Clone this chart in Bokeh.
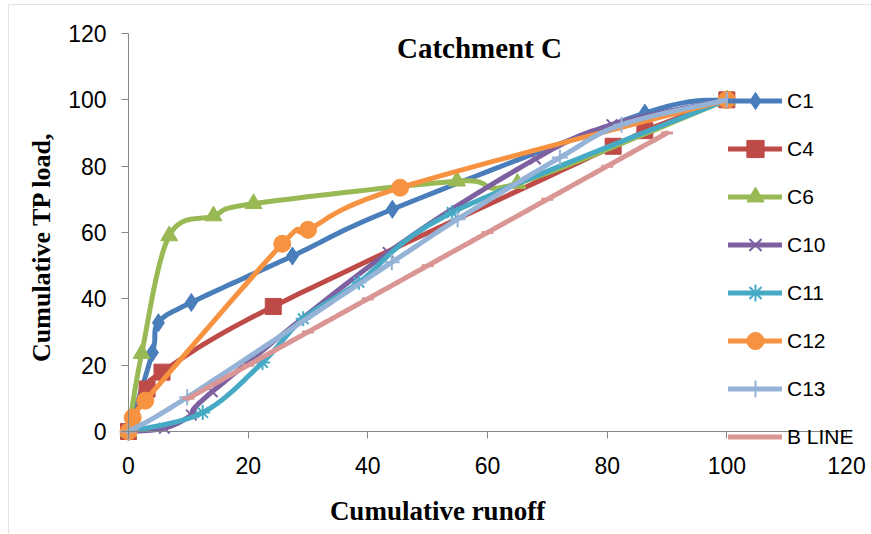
from bokeh.plotting import figure
from bokeh.models import (Range1d, FixedTicker, Label, Legend, LegendItem,
                          BoxAnnotation)
from bokeh.embed import file_html
from bokeh.resources import INLINE

# ---- data: cumulative runoff (%) vs cumulative TP load (%) ----
c1_x = [0, 4.0, 5.0, 10.5, 27.4, 44.1, 86.3, 100]
c1_y = [0, 23.8, 32.8, 38.9, 52.9, 67.0, 96.0, 100]

c4_x = [0, 3.1, 5.6, 24.2, 81.0, 86.3, 100]
c4_y = [0, 12.8, 17.9, 37.7, 86.0, 90.7, 100]

c6_x = [0, 2.2, 6.8, 14.2, 20.9, 54.9, 65.0, 100]
c6_y = [0, 23.5, 59.0, 65.0, 68.7, 75.5, 74.8, 100]

c10_x = [0, 6.0, 10.5, 14.0, 43.4, 68.0, 80.8, 100]
c10_y = [0, 1.0, 5.0, 12.0, 54.0, 82.2, 92.5, 100]

c11_x = [0, 12.4, 22.4, 29.2, 38.5, 54.1, 100]
c11_y = [0, 5.7, 20.8, 34.0, 45.0, 66.0, 100]

c12_x = [0, 0.7, 2.8, 25.7, 30.0, 45.4, 100]
c12_y = [0, 4.2, 9.3, 56.6, 60.8, 73.5, 100]

c13_x = [0, 9.8, 44.0, 55.0, 72.1, 82.4, 100]
c13_y = [0, 10.3, 51.0, 64.0, 82.6, 92.5, 100]

bline_x = [10, 20, 30, 40, 50, 60, 70, 80, 90]
bline_y = [10, 20, 30, 40, 50, 60, 70, 80, 90]

series_names = ["C1", "C4", "C6", "C10", "C11", "C12", "C13", "B LINE"]
axis_ticks = [0, 20, 40, 60, 80, 100, 120]

# ---- canvas geometry (pixels) ----
W, H = 871, 534
X0_PX, Y0_PX = 128, 431          # where (0, 0) sits
PX_PER_X = 718 / 120.0
PX_PER_Y = 398 / 120.0


def px_x(px):
    return (px - X0_PX) / PX_PER_X


def px_y(py):
    return (Y0_PX - py) / PX_PER_Y


def smooth(xs, ys, steps=20):
    """Cardinal-spline smoothing (Bezier through every point)."""
    pts = list(zip(xs, ys))
    n = len(pts)
    out_x, out_y = [pts[0][0]], [pts[0][1]]
    for i in range(n - 1):
        p0 = pts[i - 1] if i > 0 else pts[i]
        p1 = pts[i]
        p2 = pts[i + 1]
        p3 = pts[i + 2] if i + 2 < n else pts[i + 1]
        c1 = (p1[0] + (p2[0] - p0[0]) / 6.0, p1[1] + (p2[1] - p0[1]) / 6.0)
        c2 = (p2[0] - (p3[0] - p1[0]) / 6.0, p2[1] - (p3[1] - p1[1]) / 6.0)
        for k in range(1, steps + 1):
            t = k / steps
            a = (1 - t) ** 3
            b = 3 * (1 - t) ** 2 * t
            c = 3 * (1 - t) * t ** 2
            d = t ** 3
            out_x.append(a * p1[0] + b * c1[0] + c * c2[0] + d * p2[0])
            out_y.append(a * p1[1] + b * c1[1] + c * c2[1] + d * p2[1])
    return out_x, out_y


p = figure(width=W, height=H, output_backend="svg", toolbar_location=None,
           x_range=Range1d(px_x(0), px_x(W)), y_range=Range1d(px_y(H), px_y(0)),
           min_border=0, min_border_left=0, min_border_right=0,
           min_border_top=0, min_border_bottom=0)
p.outline_line_color = None
p.grid.visible = False
p.background_fill_color = "white"
p.border_fill_color = "white"

# outer chart border (left and top edges)
p.add_layout(BoxAnnotation(left=px_x(8), top=px_y(4), right=px_x(W + 20),
                           bottom=px_y(H + 20), fill_alpha=0,
                           line_color="#a6a6a6", line_width=1))

for ax in (p.xaxis[0], p.yaxis[0]):
    ax.fixed_location = 0
    ax.bounds = (0, 120)
    ax.ticker = FixedTicker(ticks=axis_ticks)
    ax.axis_line_color = "#868686"
    ax.axis_line_width = 1
    ax.major_tick_line_color = "#868686"
    ax.major_tick_in = 0
    ax.major_tick_out = 7
    ax.minor_tick_line_color = None
    ax.major_label_text_font = "Liberation Sans"
    ax.major_label_text_font_size = "23px"
    ax.major_label_text_color = "black"
p.xaxis[0].major_label_standoff = 18
p.yaxis[0].major_label_standoff = 15

styles = [
    (c1_x, c1_y, "#4A7EBB", "diamond", 18, 1),
    (c4_x, c4_y, "#BE4B48", "square", 16, 1),
    (c6_x, c6_y, "#98B954", "triangle", 17, 1),
    (c10_x, c10_y, "#7D60A0", "x", 15, 2),
    (c11_x, c11_y, "#46AAC5", "asterisk", 15, 2),
    (c12_x, c12_y, "#F69240", "circle", 17, 1),
    (c13_x, c13_y, "#95B3D7", "cross", 16, 2),
    (bline_x, bline_y, "#D99694", "dash", 12, 3),
]

items = []
for name, (xs, ys, col, mk, sz, mlw) in zip(series_names, styles):
    sx, sy = smooth(xs, ys)
    lr = p.line(sx, sy, line_color=col, line_width=5, line_join="round",
                line_cap="round")
    mr = p.scatter(xs, ys, marker=mk, size=sz, fill_color=col,
                   line_color=col, line_width=mlw)
    items.append(LegendItem(label=name, renderers=[lr, mr]))

legend = Legend(items=items, location=(728, 76), orientation="vertical",
                glyph_width=54, glyph_height=43, label_height=43, spacing=5,
                padding=0, margin=0, label_standoff=5,
                label_text_font="Liberation Sans", label_text_font_size="21px",
                label_text_color="black", border_line_color=None,
                background_fill_alpha=0)
p.add_layout(legend)

p.add_layout(Label(x=px_x(479), y=px_y(47), text="Catchment C",
                   text_font="Liberation Serif", text_font_style="bold",
                   text_font_size="29px", text_align="center",
                   text_baseline="middle", text_color="black"))
p.add_layout(Label(x=px_x(437), y=px_y(510), text="Cumulative runoff",
                   text_font="Liberation Serif", text_font_style="bold",
                   text_font_size="27px", text_align="center",
                   text_baseline="middle", text_color="black"))
p.add_layout(Label(x=px_x(41), y=px_y(243), text="Cumulative  TP load,",
                   text_font="Liberation Serif", text_font_style="bold",
                   text_font_size="26px", text_align="center",
                   text_baseline="middle", angle=1.5707963, text_color="black"))

open("out.html", "w").write(file_html(p, INLINE))
